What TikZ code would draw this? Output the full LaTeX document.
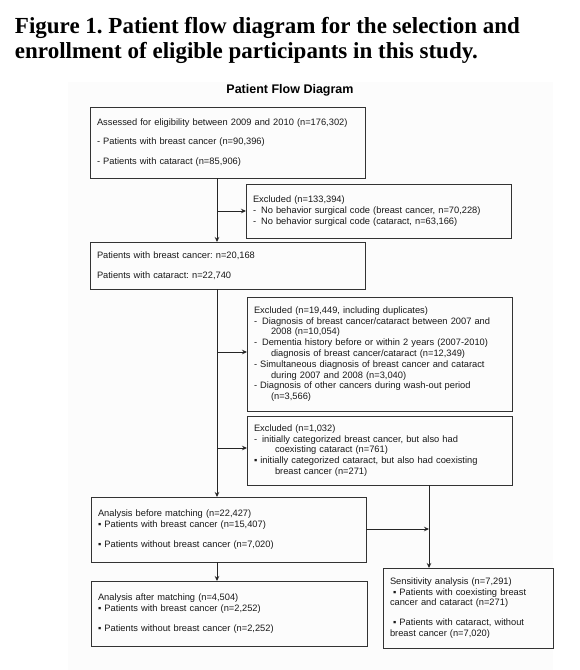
\documentclass[tikz,border=0pt]{standalone}
\usepackage{fontspec}
\setmainfont{Liberation Serif}
\setsansfont{Liberation Sans}
\usetikzlibrary{arrows.meta}
\newcommand{\sqb}{▪}
\frenchspacing

\begin{document}
\begin{tikzpicture}
[x=1pt,y=-1pt,
 every node/.style={inner sep=0pt,outer sep=0pt},
 box/.style={draw=black!80,line width=0.9pt,anchor=north west,align=left,
   inner xsep=7pt,inner ysep=3pt,text=black!90,
   font=\sffamily\fontsize{9.3}{10.8}\selectfont},
 ttl/.style={anchor=base west,font=\rmfamily\bfseries\fontsize{23}{25}\selectfont},
 flow/.style={draw=black!85,line width=0.9pt,-{Stealth[length=5pt,width=4.5pt]}}]
\useasboundingbox (0,0) rectangle (579,670);
\fill[black!1] (68,82) rectangle (553,670);
\node[ttl] (title1) at (15,33) {Figure 1. Patient flow diagram for the selection and};
\node[ttl] (title2) at (15,58) {enrollment of eligible participants in this study.};
\node[font=\sffamily\bfseries\fontsize{12.5}{14}\selectfont] (head) at (290,90) {Patient Flow Diagram};
\node[box,text width=261pt,minimum height=71pt] (elig) at (90,107)
  {Assessed for eligibility between 2009 and 2010 (n=176,302)\\[9pt]
   - Patients with breast cancer (n=90,396)\\[9pt]
   - Patients with cataract (n=85,906)};
\node[box,text width=251pt,minimum height=54pt] (excl1) at (246,184)
  {Excluded (n=133,394)\\
   -\hspace{5pt}No behavior surgical code (breast cancer, n=70,228)\\
   -\hspace{5pt}No behavior surgical code (cataract, n=63,166)};
\node[box,text width=261pt,minimum height=47pt] (pts) at (90,242)
  {Patients with breast cancer: n=20,168\\[9pt]
   Patients with cataract: n=22,740};
\node[box,text width=251pt,minimum height=114pt] (excl2) at (247,297)
  {Excluded (n=19,449, including duplicates)\\
   -\hspace{5pt}Diagnosis of breast cancer/cataract between 2007 and\\
   \hspace*{17pt}2008 (n=10,054)\\
   -\hspace{5pt}Dementia history before or within 2 years (2007-2010)\\
   \hspace*{17pt}diagnosis of breast cancer/cataract (n=12,349)\\
   - Simultaneous diagnosis of breast cancer and cataract\\
   \hspace*{17pt}during 2007 and 2008 (n=3,040)\\
   - Diagnosis of other cancers during wash-out period\\
   \hspace*{17pt}(n=3,566)};
\node[box,text width=251pt,minimum height=69pt] (excl3) at (247,416)
  {Excluded (n=1,032)\\
   -\hspace{5pt}initially categorized breast cancer, but also had\\
   \hspace*{21pt}coexisting cataract (n=761)\\
   \sqb{} initially categorized cataract, but also had coexisting\\
   \hspace*{21pt}breast cancer (n=271)};
\node[box,text width=261pt,minimum height=65pt] (pre) at (91,497)
  {Analysis before matching (n=22,427)\\
   \sqb{} Patients with breast cancer (n=15,407)\\[9pt]
   \sqb{} Patients without breast cancer (n=7,020)};
\node[box,text width=262pt,minimum height=65pt] (post) at (91,581)
  {Analysis after matching (n=4,504)\\
   \sqb{} Patients with breast cancer (n=2,252)\\[9pt]
   \sqb{} Patients without breast cancer (n=2,252)};
\node[box,text width=156pt,minimum height=80pt] (sens) at (383,568)
  {Sensitivity analysis (n=7,291)\\
   \ \sqb{} Patients with coexisting breast\\
   cancer and cataract (n=271)\\[9pt]
   \ \sqb{} Patients with cataract, without\\
   breast cancer (n=7,020)};
% junctions
\coordinate (j1) at (217,211);
\coordinate (j2) at (217,352);
\coordinate (j3) at (217,448);
\coordinate (j4) at (429,529);
\draw[flow] (elig.south -| j1) -- (pts.north -| j1);
\draw[flow] (j1) -- (excl1.west |- j1);
\draw[flow] (pts.south -| j2) -- (pre.north -| j2);
\draw[flow] (j2) -- (excl2.west |- j2);
\draw[flow] (j3) -- (excl3.west |- j3);
\draw[flow] (excl3.south -| j4) -- (sens.north -| j4);
\draw[flow] (pre.east |- j4) -- (j4);
\draw[flow] (pre.south -| j1) -- (post.north -| j1);
\end{tikzpicture}
\end{document}
